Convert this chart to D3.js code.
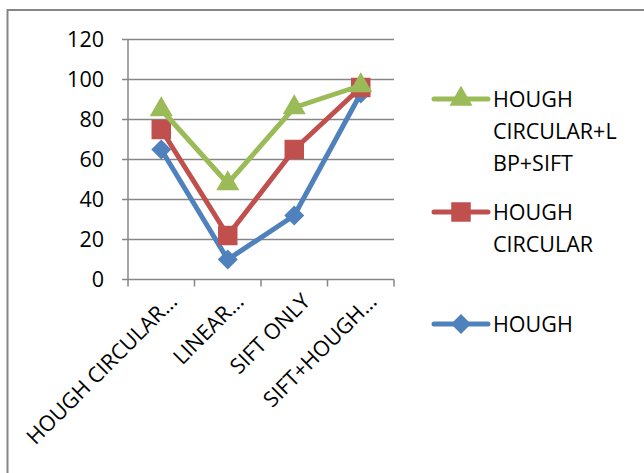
<!DOCTYPE html>
<html><head><meta charset="utf-8">
<script src="https://cdn.jsdelivr.net/npm/d3@7"></script>
<style>body{margin:0;background:#fff}svg{display:block}text{font-family:"Open Sans",sans-serif;fill:#000}</style>
</head><body><svg id="c" width="644" height="473"></svg>
<script>
const categories = ["HOUGH CIRCULAR…", "LINEAR…", "SIFT ONLY", "SIFT+HOUGH…"];
const houghValues = [65, 10, 32, 93];
const houghCircularValues = [75, 22, 65, 96];
const houghCircularLbpSiftValues = [85, 48, 86, 97];
const yTicks = [0, 20, 40, 60, 80, 100, 120];
const seriesNames = [["HOUGH", "CIRCULAR+L", "BP+SIFT"], ["HOUGH", "CIRCULAR"], ["HOUGH"]];

const series = [
  {name: seriesNames[2], values: houghValues, color: "#4F81BD", shape: "diamond"},
  {name: seriesNames[1], values: houghCircularValues, color: "#C0504D", shape: "square"},
  {name: seriesNames[0], values: houghCircularLbpSiftValues, color: "#9BBB59", shape: "triangle"}
];

const svg = d3.select("#c");
const grid = "#868686";
const fs = 21.5;
svg.append("path").attr("d", "M7.5,700 L7.5,10 L700,10").attr("fill", "none").attr("stroke", grid).attr("stroke-width", 2);

const x = d3.scaleBand().domain(categories).range([128, 394]);
const y = d3.scaleLinear().domain([0, 120]).range([279.5, 39.5]);

svg.append("g").selectAll("line").data(yTicks).join("line")
  .attr("x1", 122).attr("x2", 394).attr("y1", d => y(d)).attr("y2", d => y(d))
  .attr("stroke", grid).attr("stroke-width", 1.5);
svg.append("line").attr("x1", 128).attr("x2", 128).attr("y1", y(120)).attr("y2", y(0)).attr("stroke", grid).attr("stroke-width", 1.5);
const bounds = categories.map(c => x(c)).concat([x.range()[1]]);
svg.append("g").selectAll("line").data(bounds).join("line")
  .attr("x1", d => d).attr("x2", d => d).attr("y1", y(0)).attr("y2", y(0) + 7)
  .attr("stroke", grid).attr("stroke-width", 1.5);

svg.append("g").selectAll("text").data(yTicks).join("text")
  .attr("x", 104).attr("y", d => y(d)).attr("dy", "0.36em").attr("text-anchor", "end")
  .attr("font-size", fs).text(d => d);

svg.append("g").selectAll("text").data(categories).join("text")
  .attr("text-anchor", "end").attr("font-size", fs)
  .attr("transform", d => `translate(${x(d) + x.bandwidth() / 2 + 12},${y(0) + 18}) rotate(-45)`)
  .attr("dy", "0.35em").text(d => d);

const cx = d => x(d) + x.bandwidth() / 2;
function markerPath(shape) {
  if (shape === "diamond") return d3.symbol().type(d3.symbolSquare).size(200)();
  if (shape === "square") return d3.symbol().type(d3.symbolSquare).size(380)();
  return d3.symbol().type(d3.symbolTriangle).size(230)();
}
const line = d3.line().x((d, i) => cx(categories[i])).y(d => y(d));
series.forEach(s => {
  svg.append("path").datum(s.values).attr("d", line).attr("fill", "none")
    .attr("stroke", s.color).attr("stroke-width", 5).attr("stroke-linejoin", "round");
  svg.append("g").selectAll("path").data(s.values).join("path")
    .attr("d", markerPath(s.shape)).attr("fill", s.color)
    .attr("transform", (d, i) => `translate(${cx(categories[i])},${y(d)})` + (s.shape === "diamond" ? " rotate(45)" : ""));
});

const legendY = [99, 212, 324];
const legendOrder = [series[2], series[1], series[0]];
legendOrder.forEach((s, k) => {
  const ly = legendY[k];
  const g = svg.append("g");
  g.append("line").attr("x1", 434).attr("x2", 488).attr("y1", ly).attr("y2", ly)
    .attr("stroke", s.color).attr("stroke-width", 5).attr("stroke-linecap", "round");
  g.append("path").attr("d", markerPath(s.shape)).attr("fill", s.color)
    .attr("transform", `translate(461,${ly})` + (s.shape === "diamond" ? " rotate(45)" : ""));
  s.name.forEach((t, j) => {
    g.append("text").attr("x", 493).attr("y", ly + 8 + j * 32).attr("font-size", fs).text(t);
  });
});
</script></body></html>
